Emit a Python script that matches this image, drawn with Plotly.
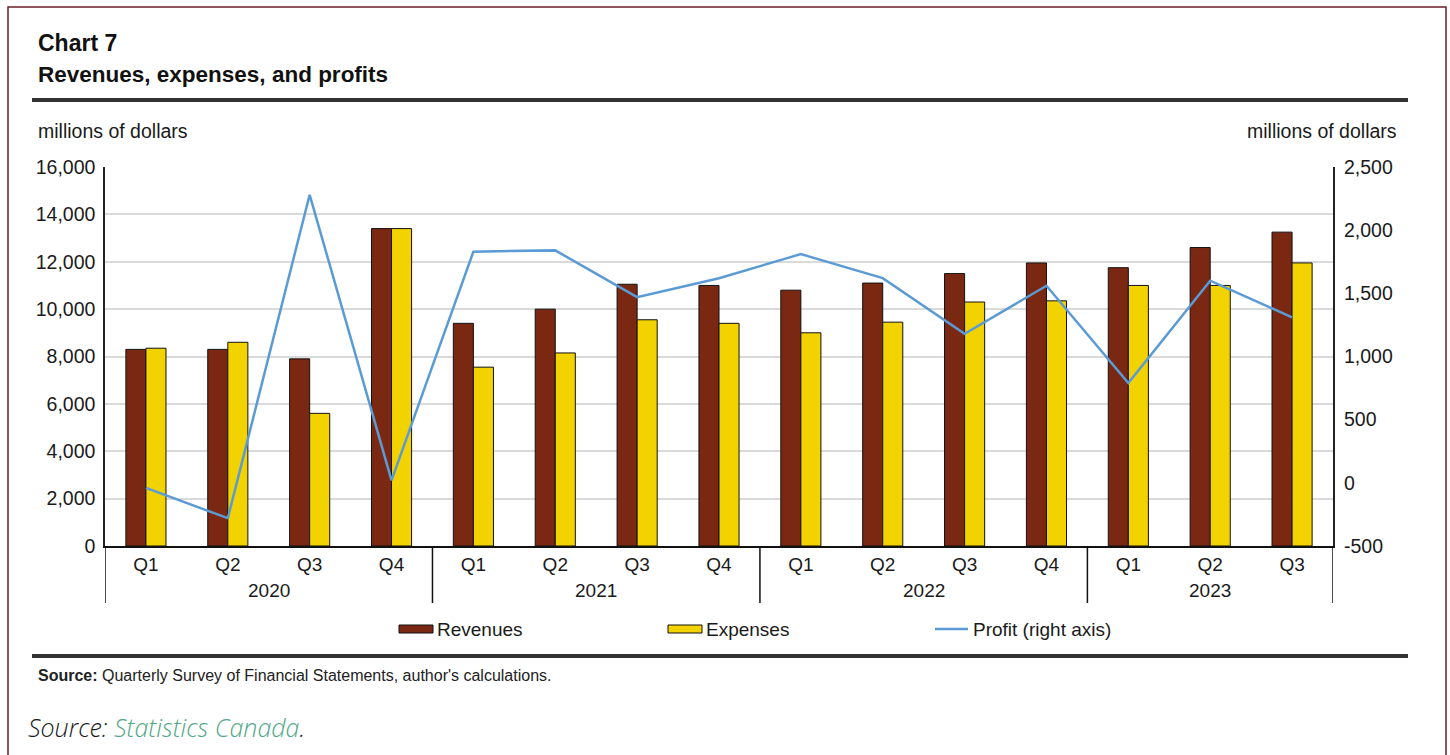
import plotly.graph_objects as go

quarters = ["Q1", "Q2", "Q3", "Q4", "Q1", "Q2", "Q3", "Q4", "Q1", "Q2", "Q3", "Q4", "Q1", "Q2", "Q3"]
years = ["2020", "2021", "2022", "2023"]
year_counts = [4, 4, 4, 3]
revenues = [8300, 8300, 7900, 13400, 9400, 10000, 11050, 11000, 10800, 11100, 11500, 11950, 11750, 12600, 13250]
expenses = [8350, 8600, 5600, 13400, 7550, 8150, 9550, 9400, 9000, 9450, 10300, 10350, 11000, 11000, 11950]
profit = [-40, -280, 2280, 20, 1830, 1840, 1470, 1620, 1810, 1620, 1180, 1560, 790, 1600, 1310]
left_ticks = [0, 2000, 4000, 6000, 8000, 10000, 12000, 14000, 16000]
right_ticks = [-500, 0, 500, 1000, 1500, 2000, 2500]

W, H = 1450, 755
PL, PR, PT, PB = 105, 1333, 167, 546
FONT = "Liberation Sans, Arial, sans-serif"
TXT = "#1a1a1a"


def px(x):
    return (x - PL) / (PR - PL)


def py(y):
    return (PB - y) / (PB - PT)


xs = list(range(len(quarters)))

fig = go.Figure()
fig.add_trace(go.Bar(x=xs, y=revenues, name="Revenues", marker=dict(color="#7B2812", line=dict(color="#111", width=1)), showlegend=False))
fig.add_trace(go.Bar(x=xs, y=expenses, name="Expenses", marker=dict(color="#F2D300", line=dict(color="#111", width=1)), showlegend=False))
fig.add_trace(go.Scatter(x=xs, y=profit, name="Profit (right axis)", yaxis="y2", mode="lines",
                         line=dict(color="#5B9BD5", width=2.5), showlegend=False))

shapes = []
annotations = []

# outer frame
shapes.append(dict(type="rect", xref="paper", yref="paper", x0=px(8), x1=px(1446), y0=py(7), y1=py(775),
                   line=dict(color="#6E1E2C", width=1.5), fillcolor="rgba(0,0,0,0)", layer="above"))
# thick rules
for yy in (100, 656):
    shapes.append(dict(type="line", xref="paper", yref="paper", x0=px(32), x1=px(1408), y0=py(yy), y1=py(yy),
                       line=dict(color="#333333", width=4)))

# year dividers
start = 0
bounds = [-0.5]
for c in year_counts:
    start += c
    bounds.append(start - 0.5)
for b in bounds:
    shapes.append(dict(type="line", xref="x", yref="paper", x0=b, x1=b, y0=0, y1=py(603),
                       line=dict(color="#111", width=1.5)))

# year labels
start = 0
for yname, c in zip(years, year_counts):
    center = start + (c - 1) / 2
    annotations.append(dict(x=center, y=py(590), xref="x", yref="paper", text=yname, showarrow=False,
                            font=dict(family=FONT, size=19, color=TXT), xanchor="center", yanchor="middle"))
    start += c

# titles
annotations.append(dict(x=px(36), y=py(43), xref="paper", yref="paper", text="<b>Chart 7</b>", showarrow=False,
                        font=dict(family=FONT, size=23, color="#111"), xanchor="left", yanchor="middle"))
annotations.append(dict(x=px(36), y=py(75), xref="paper", yref="paper", text="<b>Revenues, expenses, and profits</b>",
                        showarrow=False, font=dict(family=FONT, size=22.5, color="#111"), xanchor="left", yanchor="middle"))
annotations.append(dict(x=px(36), y=py(131), xref="paper", yref="paper", text="millions of dollars", showarrow=False,
                        font=dict(family=FONT, size=19.5, color=TXT), xanchor="left", yanchor="middle"))
annotations.append(dict(x=px(1399), y=py(131), xref="paper", yref="paper", text="millions of dollars", showarrow=False,
                        font=dict(family=FONT, size=19.5, color=TXT), xanchor="right", yanchor="middle"))

# manual legend
shapes.append(dict(type="rect", xref="paper", yref="paper", x0=px(399), x1=px(433), y0=py(633), y1=py(625),
                   fillcolor="#7B2812", line=dict(color="#111", width=1)))
shapes.append(dict(type="rect", xref="paper", yref="paper", x0=px(668), x1=px(702), y0=py(633), y1=py(625),
                   fillcolor="#F2D300", line=dict(color="#111", width=1)))
shapes.append(dict(type="line", xref="paper", yref="paper", x0=px(935), x1=px(968), y0=py(629), y1=py(629),
                   line=dict(color="#5B9BD5", width=2.5)))
for xx, t in ((435, "Revenues"), (704, "Expenses"), (971, "Profit (right axis)")):
    annotations.append(dict(x=px(xx), y=py(629), xref="paper", yref="paper", text=t, showarrow=False,
                            font=dict(family=FONT, size=19, color=TXT), xanchor="left", yanchor="middle"))

# sources
annotations.append(dict(x=px(36), y=py(675), xref="paper", yref="paper",
                        text="<b>Source:</b> Quarterly Survey of Financial Statements, author's calculations.",
                        showarrow=False, font=dict(family=FONT, size=16, color="#222"), xanchor="left", yanchor="middle"))
annotations.append(dict(x=px(26), y=py(727), xref="paper", yref="paper",
                        text="<i>Source: <span style='color:#4FA886'>Statistics Canada</span>.</i>",
                        showarrow=False, font=dict(family="Open Sans, Lato, sans-serif", size=25, color="#1a1a1a", weight=300),
                        xanchor="left", yanchor="middle"))

fig.update_layout(
    width=W, height=H,
    margin=dict(l=PL, r=W - PR, t=PT, b=H - PB),
    paper_bgcolor="white", plot_bgcolor="white",
    barmode="group", bargap=0.51, bargroupgap=0,
    font=dict(family=FONT, size=19, color=TXT),
    shapes=shapes, annotations=annotations,
    xaxis=dict(tickmode="array", tickvals=xs, ticktext=quarters, range=[-0.5, len(xs) - 0.5],
               showline=True, linecolor="#111", linewidth=2, mirror=False, ticks="", showgrid=False,
               tickfont=dict(family=FONT, size=19, color=TXT), zeroline=False),
    yaxis=dict(range=[0, 16000], tickmode="array", tickvals=left_ticks, ticktext=[f"{v:,}" for v in left_ticks],
               showgrid=True, gridcolor="#DADADA", gridwidth=1.5, zeroline=False,
               showline=True, linecolor="#222", linewidth=1.5, mirror=True, ticks="",
               tickfont=dict(family=FONT, size=19.5, color=TXT), ticklabelstandoff=4),
    yaxis2=dict(range=[-500, 2500], overlaying="y", side="right", tickmode="array", tickvals=right_ticks,
                ticktext=[f"{v:,}" for v in right_ticks], showgrid=False, zeroline=False, showline=False, ticks="",
                tickfont=dict(family=FONT, size=19.5, color=TXT), ticklabelstandoff=10),
)

fig.write_html("out.html")
